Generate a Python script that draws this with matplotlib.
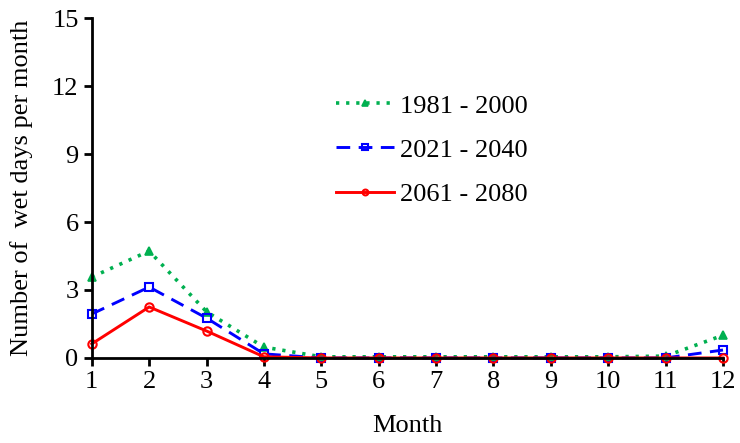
import matplotlib.pyplot as plt

months = [1, 2, 3, 4, 5, 6, 7, 8, 9, 10, 11, 12]
wet_1981_2000 = [3.57, 4.72, 2.04, 0.48, 0.05, 0.05, 0.05, 0.05, 0.05, 0.05, 0.08, 1.0]
wet_2021_2040 = [1.94, 3.13, 1.76, 0.18, 0.0, 0.0, 0.0, 0.0, 0.0, 0.0, 0.0, 0.35]
wet_2061_2080 = [0.62, 2.25, 1.19, 0.05, 0.0, 0.0, 0.0, 0.0, 0.0, 0.0, 0.0, 0.0]
labels = ['1981 - 2000', '2021 - 2040', '2061 - 2080']

plt.rcParams['font.family'] = ['Liberation Serif', 'DejaVu Serif']
fig = plt.figure(figsize=(7.4, 4.43), dpi=100)
ax = fig.add_axes([0.124, 0.192, 0.853, 0.767])

ax.plot(months, wet_1981_2000, color='#00b050', linestyle=(0, (0.9, 1.9)), linewidth=2.6,
        marker='^', markersize=6, markeredgewidth=1.2, label=labels[0])
ax.plot(months, wet_2021_2040, color='#0000ff', linestyle=(0, (4.7, 2.9)), linewidth=2.1,
        marker='s', markersize=6, markerfacecolor='none', markeredgewidth=1.5, label=labels[1])
ax.plot(months, wet_2061_2080, color='#ff0000', linestyle='-', linewidth=2.1,
        marker='o', markersize=6, markerfacecolor='none', markeredgewidth=1.5, label=labels[2])

ax.set_xlim(1, 12)
ax.set_ylim(0, 15)
ax.set_xticks(months)
ax.set_yticks([0, 3, 6, 9, 12, 15])
ax.spines['top'].set_visible(False)
ax.spines['right'].set_visible(False)
ax.spines['left'].set_linewidth(2)
ax.spines['bottom'].set_linewidth(2)
ax.tick_params(axis='both', direction='out', length=6, width=2, labelsize=19)
ax.set_xlabel('Month', fontsize=19, labelpad=16)
ax.set_ylabel('Number of  wet days per month', fontsize=19, labelpad=14)
for line in ax.get_lines():
    line.set_clip_on(False)

ax.legend(loc='center left', bbox_to_anchor=(0.35, 0.612), frameon=False, fontsize=19,
          handlelength=2.2, labelspacing=0.78, markerscale=0.7, handletextpad=0.2)

plt.savefig('out.png')
